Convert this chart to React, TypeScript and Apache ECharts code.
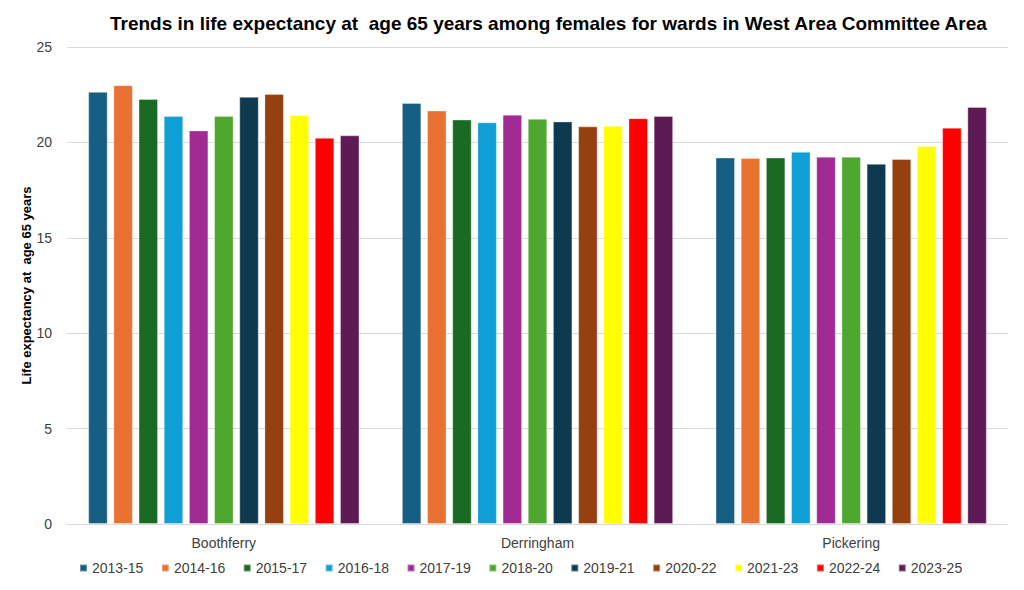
import { useEffect, useRef } from "react";
import * as echarts from "echarts";

const wards = ["Boothferry", "Derringham", "Pickering"];

const periods = [
  "2013-15", "2014-16", "2015-17", "2016-18", "2017-19", "2018-20",
  "2019-21", "2020-22", "2021-23", "2022-24", "2023-25",
];

const periodColors = [
  "#175F82", "#E97132", "#196B24", "#0F9ED5", "#A02B93", "#4EA72E",
  "#0D3A4F", "#94400F", "#FFFF00", "#FF0000", "#5E1A55",
];

// one row per period: Boothferry, Derringham, Pickering
const values2013_15 = [22.65, 22.07, 19.21];
const values2014_16 = [23.0, 21.67, 19.18];
const values2015_17 = [22.28, 21.2, 19.21];
const values2016_18 = [21.39, 21.05, 19.51];
const values2017_19 = [20.63, 21.45, 19.25];
const values2018_20 = [21.39, 21.24, 19.25];
const values2019_21 = [22.39, 21.1, 18.88];
const values2020_22 = [22.54, 20.84, 19.13];
const values2021_23 = [21.43, 20.87, 19.81];
const values2022_24 = [20.24, 21.27, 20.77];
const values2023_25 = [20.37, 21.39, 21.86];

const seriesValues = [
  values2013_15, values2014_16, values2015_17, values2016_18, values2017_19,
  values2018_20, values2019_21, values2020_22, values2021_23, values2022_24,
  values2023_25,
];

const FONT = "'Liberation Sans', Arial, sans-serif";

export default function App() {
  const chartRef = useRef<HTMLDivElement>(null);

  useEffect(() => {
    if (!chartRef.current) return;
    const chart = echarts.init(chartRef.current, undefined, { renderer: "svg" });

    chart.setOption({
      animation: false,
      backgroundColor: "#ffffff",
      textStyle: { fontFamily: FONT },
      title: {
        text: "Trends in life expectancy at  age 65 years among females for wards in West Area Committee Area",
        left: 105,
        top: 9,
        textStyle: { fontSize: 19, fontWeight: "bold", color: "#000000", fontFamily: FONT },
      },
      legend: {
        bottom: 10,
        left: 74,
        itemWidth: 7,
        itemHeight: 7,
        itemGap: 17.5,
        icon: "rect",
        textStyle: { fontSize: 14, color: "#404040", fontFamily: FONT },
        data: periods,
      },
      grid: { left: 67, right: 16, top: 47, bottom: 66 },
      xAxis: {
        type: "category",
        data: wards,
        axisLine: { lineStyle: { color: "#D9D9D9" } },
        axisTick: { show: false },
        axisLabel: { fontSize: 14, color: "#404040", margin: 12 },
      },
      yAxis: {
        type: "value",
        min: 0,
        max: 25,
        interval: 5,
        name: "Life expectancy at  age 65 years",
        nameLocation: "middle",
        nameGap: 34,
        nameMoveOverlap: false,
        nameTextStyle: { fontSize: 13, fontWeight: "bold", color: "#000000", fontFamily: FONT },
        axisLine: { show: false },
        axisTick: { show: false },
        axisLabel: { fontSize: 14, color: "#404040", margin: 15 },
        splitLine: { lineStyle: { color: "#D9D9D9" } },
      },
      series: periods.map((p, i) => ({
        name: p,
        type: "bar",
        data: seriesValues[i],
        barGap: "29%",
        barCategoryGap: "13.5%",
        itemStyle: {
          color: periodColors[i],
          borderColor: "rgba(255,255,255,0.35)",
          borderWidth: 1,
        },
      })),
    });

    return () => {
      chart.dispose();
    };
  }, []);

  return (
    <div
      ref={chartRef}
      style={{ position: "fixed", left: 0, top: 0, width: 1024, height: 590 }}
    />
  );
}
